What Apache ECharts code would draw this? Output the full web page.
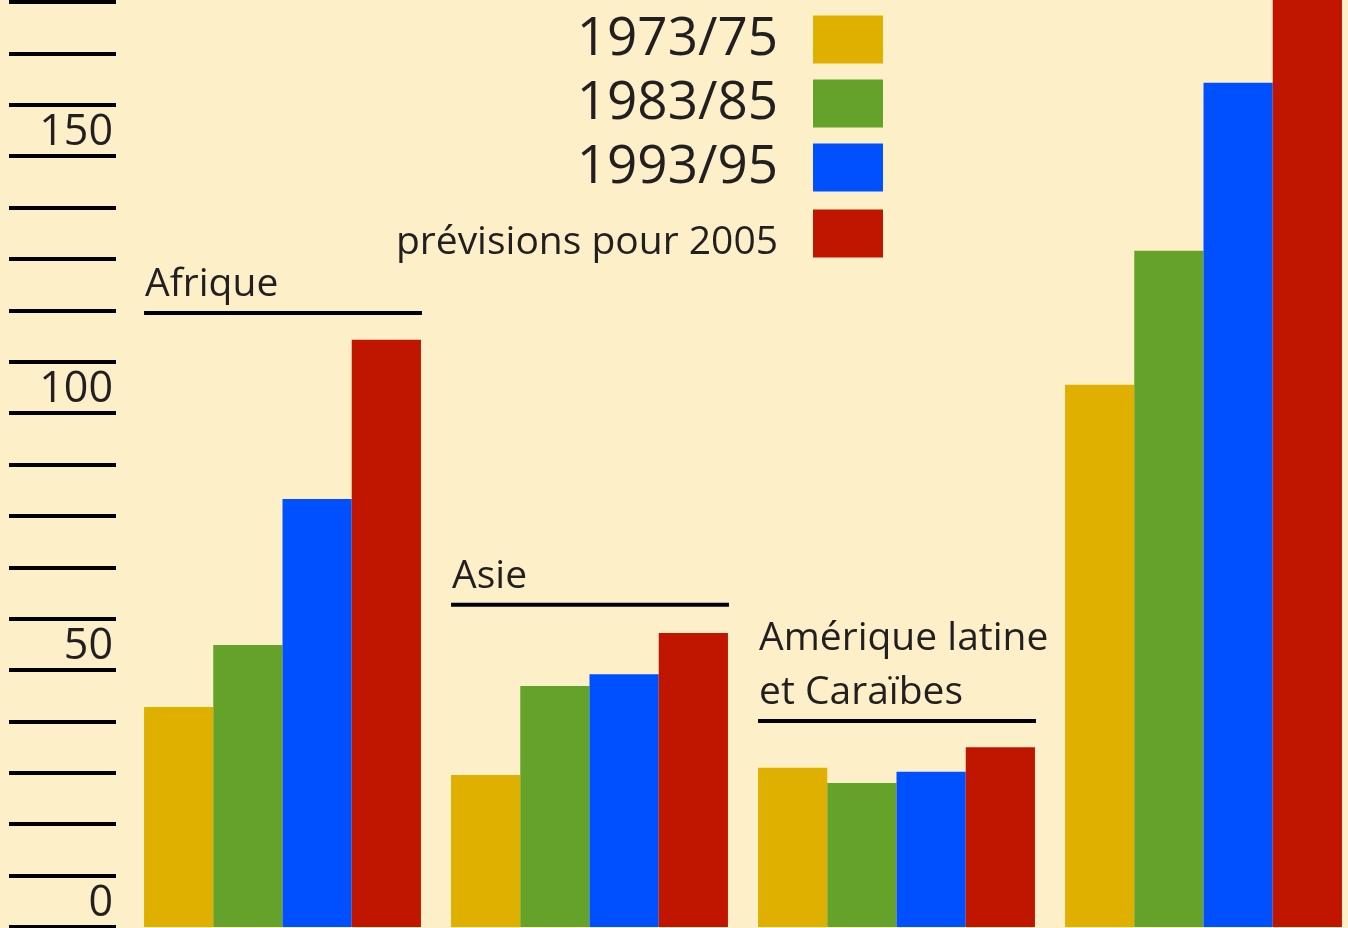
<!DOCTYPE html>
<html>
<head>
<meta charset="utf-8">
<script src="https://cdn.jsdelivr.net/npm/echarts@6/dist/echarts.min.js"></script>
<style>
  html, body { margin: 0; padding: 0; background: #fdf0c9; overflow: hidden; }
  /* la dernière barre déborde un peu à droite dans l'original */
  #chart { width: 1357px; height: 928px; }
</style>
</head>
<body>
<div id="chart"></div>
<script>
// régions (la 4e n'a pas d'étiquette visible dans l'image)
var regions = ['Afrique', 'Asie', 'Amérique latine\net Caraïbes', '']
var periods = ['1973/75', '1983/85', '1993/95', 'prévisions pour 2005']
var colors = ['#e0b000', '#64a22a', '#0050ff', '#c01600']

var v1973 = [42.8, 29.6, 31.0, 105.5]
var v1983 = [54.9, 46.9, 28.0, 131.6]
var v1993 = [83.3, 49.2, 30.2, 164.3]
var v2005 = [114.3, 57.2, 35.0, 200]

// hauteur du trait sous le nom de chaque région
var underlineValues = [119.5, 62.7, 40.1]

var chart = echarts.init(document.getElementById('chart'))

var font = "'Open Sans', 'Noto Sans', sans-serif"
var ink = '#231f20'

var barSeries = [v1973, v1983, v1993, v2005].map(function (vals, i) {
  return {
    name: periods[i],
    type: 'bar',
    data: vals,
    barGap: '0%',
    barCategoryGap: '9.8%',
    clip: false,
    itemStyle: { color: colors[i] },
    animation: false
  }
})

var labelData = underlineValues.map(function (v, i) {
  return [i, v]
})

var labelSeries = {
  type: 'custom',
  name: 'labels',
  data: labelData,
  animation: false,
  silent: true,
  z: 5,
  renderItem: function (params, api) {
    var p = api.coord([api.value(0), api.value(1)])
    var band = api.size([1, 0])[0]
    var half = band * (1 - 0.098) / 2
    var left = p[0] - half
    var right = p[0] + half
    var name = regions[api.value(0)]
    return {
      type: 'group',
      children: [
        {
          type: 'line',
          shape: { x1: left, y1: p[1], x2: right + 1, y2: p[1] },
          style: { stroke: '#000', lineWidth: 4 }
        },
        {
          type: 'text',
          style: {
            text: name,
            x: left + 1,
            y: p[1] - 1,
            fill: ink,
            fontSize: 39,
            fontFamily: font,
            lineHeight: 54,
            align: 'left',
            verticalAlign: 'bottom'
          }
        }
      ]
    }
  }
}

var option = {
  backgroundColor: '#fdf0c9',
  animation: false,
  grid: {
    left: 129,
    right: 0,
    top: 2,
    bottom: 1
  },
  legend: {
    orient: 'vertical',
    align: 'right',
    right: 469,
    top: 8,
    itemWidth: 70,
    itemHeight: 48,
    itemGap: 11,
    icon: 'rect',
    selectedMode: false,
    formatter: function (name) {
      return name === periods[3] ? '{p|' + name + '}' : name
    },
    textStyle: {
      color: ink,
      fontFamily: font,
      fontSize: 53,
      lineHeight: 48,
      padding: [0, 30, 0, 0],
      rich: {
        p: {
          color: ink,
          fontFamily: font,
          fontSize: 39,
          lineHeight: 30,
          padding: [18, 0, 0, 0]
        }
      }
    },
    data: periods.map(function (p) {
      return { name: p }
    })
  },
  xAxis: {
    type: 'category',
    data: regions,
    axisLine: { show: false },
    axisTick: { show: false },
    axisLabel: { show: false },
    splitLine: { show: false }
  },
  yAxis: {
    type: 'value',
    min: 0,
    max: 180,
    interval: 10,
    offset: 13,
    axisLine: { show: false },
    splitLine: { show: false },
    axisTick: {
      show: true,
      length: 107,
      lineStyle: { color: '#000', width: 4 }
    },
    axisLabel: {
      margin: 3,
      color: ink,
      fontFamily: font,
      fontSize: 43,
      verticalAlign: 'bottom',
      lineHeight: 46,
      formatter: function (v) {
        return v % 50 === 0 ? String(v) : ''
      }
    }
  },
  series: barSeries.concat([labelSeries])
}

chart.setOption(option)
</script>
</body>
</html>
